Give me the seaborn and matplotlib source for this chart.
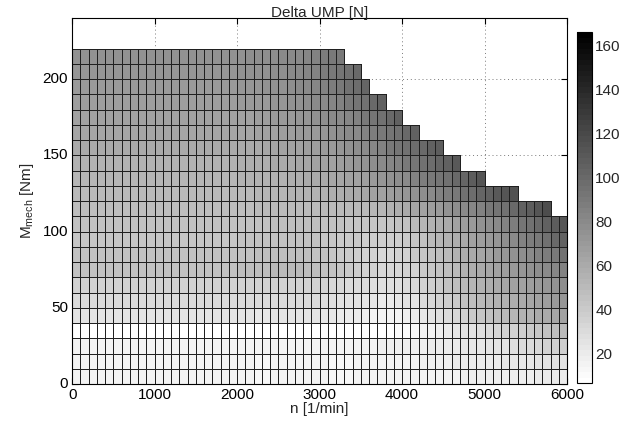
import numpy as np
import pandas as pd
import matplotlib
matplotlib.use("Agg")
import matplotlib.pyplot as plt
import seaborn as sns

nan = np.nan

# speed bins: 100 rpm each, 0..6000 ; torque bins: 10 Nm each, 0..220
speed_step = 100
torque_step = 10
speed_ticks = [0, 1000, 2000, 3000, 4000, 5000, 6000]
torque_ticks = [0, 50, 100, 150, 200]
cbar_ticks = [20, 40, 60, 80, 100, 120, 140, 160]

# Delta UMP [N]; rows from 0-10 Nm (first) up to 210-220 Nm (last), 60 speed columns each
ump = [
    [15,15,15,15,15,15,15,15,15,15, 15,15,15,15,15,15,15,15,15,15, 14,14,13,13,14,15,15,15,15,15, 14,13,13,13,14,15,15,15,15,15, 15,15,16,16,16,16,16,17,17,17, 17,17,18,18,18,18,19,19,19,20],
    [15,15,15,15,15,15,15,15,15,15, 15,15,15,15,15,15,15,15,15,15, 14,14,13,13,14,15,15,15,15,15, 14,13,13,13,14,15,15,15,15,16, 16,16,17,17,18,18,19,19,20,20, 21,21,22,22,23,23,24,24,25,26],
    [16,16,16,16,16,16,16,16,16,16, 16,16,16,16,16,16,16,16,16,16, 15,15,14,14,15,16,16,16,16,16, 15,14,14,14,15,16,16,17,17,18, 17,18,18,19,19,20,21,22,22,23, 24,25,26,27,29,30,32,34,36,38],
    [8,8,8,8,8,8,8,8,8,8, 8,8,8,8,8,8,8,8,8,8, 8,8,7,7,8,8,8,8,8,8, 8,8,8,8,8,7,7,7,8,9, 10,12,14,16,18,20,22,24,26,28, 30,32,34,36,38,40,43,46,48,51],
    [24,24,24,24,24,24,24,24,24,24, 24,24,24,24,24,24,24,24,24,24, 24,24,23,23,24,24,24,24,24,24, 23,22,21,20,19,18,16,15,15,16, 18,20,22,24,27,30,33,36,39,42, 45,48,50,52,54,56,59,61,63,66],
    [29,29,29,29,29,29,29,29,29,29, 29,29,29,29,29,29,29,29,29,29, 29,29,29,29,29,29,29,29,29,29, 28,27,26,25,24,23,22,21,21,22, 24,26,29,32,35,38,41,44,47,50, 52,54,56,58,60,62,64,67,69,72],
    [34,34,34,34,34,34,34,34,34,34, 34,34,34,34,34,34,34,34,34,34, 34,34,34,34,34,35,35,35,35,35, 34,33,32,31,30,29,28,27,27,28, 30,32,35,38,41,44,47,50,53,56, 58,60,62,64,66,68,70,73,75,78],
    [46,46,46,46,46,46,46,46,46,46, 46,46,46,46,46,46,46,46,46,46, 47,47,48,48,49,49,49,49,48,47, 46,44,42,40,38,36,34,33,32,33, 34,36,39,42,45,48,51,54,57,60, 62,65,67,70,72,75,77,80,82,85],
    [45,45,45,45,45,45,45,45,45,45, 45,45,45,45,45,45,45,45,45,45, 46,46,47,47,48,48,48,48,47,46, 45,43,41,39,37,35,34,33,33,34, 36,39,42,45,48,51,54,57,60,63, 66,69,72,75,78,81,84,87,90,94],
    [43,43,43,43,43,43,43,43,43,43, 43,43,43,43,43,43,43,43,43,43, 44,44,45,45,46,46,46,46,45,44, 43,42,41,40,39,38,37,37,37,38, 40,43,46,49,52,55,58,61,64,67, 70,73,77,80,84,87,91,95,99,104],
    [44,44,44,44,44,44,44,44,44,44, 44,44,44,44,44,44,44,44,44,44, 45,45,46,46,47,47,47,47,47,47, 46,45,44,43,42,42,42,42,43,44, 46,49,52,55,58,61,64,67,70,74, 77,80,84,88,92,96,100,104,108,113],
    [47,47,47,47,47,47,47,47,47,47, 47,47,47,47,47,47,47,47,47,47, 48,48,49,49,50,50,50,50,50,50, 50,50,50,50,50,51,52,53,55,57, 59,62,65,68,71,74,77,80,83,86, 89,92,96,100,104,108,113,118,nan,nan],
    [50,50,50,50,50,50,50,50,50,50, 50,50,50,50,50,50,50,50,50,50, 51,51,52,52,53,53,54,54,55,55, 56,57,58,59,60,62,64,66,68,70, 72,75,78,81,84,87,90,94,98,102, 106,109,112,116,nan,nan,nan,nan,nan,nan],
    [53,53,53,53,53,53,53,53,53,53, 53,53,53,53,53,53,53,53,53,53, 54,54,55,55,56,56,57,58,59,60, 61,62,63,64,66,68,70,72,75,78, 81,84,87,90,93,96,99,103,108,113, nan,nan,nan,nan,nan,nan,nan,nan,nan,nan],
    [56,56,56,56,56,56,56,56,56,56, 56,56,56,56,56,56,56,56,56,56, 57,57,58,58,59,60,61,62,63,64, 65,66,68,70,72,74,77,80,83,86, 89,92,95,98,102,106,110,nan,nan,nan, nan,nan,nan,nan,nan,nan,nan,nan,nan,nan],
    [59,59,59,59,59,59,59,59,59,59, 59,59,59,59,59,59,59,59,59,59, 60,60,61,62,63,64,65,66,67,68, 69,71,73,75,77,80,83,86,89,92, 95,98,101,104,107,nan,nan,nan,nan,nan, nan,nan,nan,nan,nan,nan,nan,nan,nan,nan],
    [62,62,62,62,62,62,62,62,62,62, 62,62,62,62,62,62,62,62,62,62, 63,63,64,65,66,67,68,69,70,71, 73,75,77,79,81,84,87,90,93,96, 100,104,nan,nan,nan,nan,nan,nan,nan,nan, nan,nan,nan,nan,nan,nan,nan,nan,nan,nan],
    [65,65,65,65,65,65,65,65,65,65, 65,65,65,65,65,65,65,65,65,65, 66,66,67,68,69,70,71,72,73,75, 77,79,81,83,86,89,92,96,100,105, nan,nan,nan,nan,nan,nan,nan,nan,nan,nan, nan,nan,nan,nan,nan,nan,nan,nan,nan,nan],
    [68,68,68,68,68,68,68,68,68,68, 68,68,68,68,68,68,68,68,68,68, 69,69,70,71,72,73,74,75,77,79, 81,83,86,89,92,96,100,105,nan,nan, nan,nan,nan,nan,nan,nan,nan,nan,nan,nan, nan,nan,nan,nan,nan,nan,nan,nan,nan,nan],
    [71,71,71,71,71,71,71,71,71,71, 71,71,71,71,71,71,71,71,71,71, 72,72,73,74,75,76,77,79,81,83, 85,88,91,94,98,102,nan,nan,nan,nan, nan,nan,nan,nan,nan,nan,nan,nan,nan,nan, nan,nan,nan,nan,nan,nan,nan,nan,nan,nan],
    [73,73,73,73,73,73,73,73,73,73, 73,73,73,73,73,73,73,73,73,73, 74,74,75,76,77,78,79,81,83,85, 87,89,92,96,100,nan,nan,nan,nan,nan, nan,nan,nan,nan,nan,nan,nan,nan,nan,nan, nan,nan,nan,nan,nan,nan,nan,nan,nan,nan],
    [76,76,76,76,76,76,76,76,76,76, 76,76,76,76,76,76,76,76,76,76, 76,77,77,78,78,79,80,81,83,85, 87,89,91,nan,nan,nan,nan,nan,nan,nan, nan,nan,nan,nan,nan,nan,nan,nan,nan,nan, nan,nan,nan,nan,nan,nan,nan,nan,nan,nan],
]

sns.set_style("ticks")
plt.rcParams["font.family"] = ["Liberation Sans", "DejaVu Sans"]
plt.rcParams["font.size"] = 11

n_cols = len(ump[0])
n_rows = len(ump)
speed_left = [c * speed_step for c in range(n_cols)]
torque_low = [r * torque_step for r in range(n_rows)]
vals = np.array(ump, dtype=float)
df = pd.DataFrame(vals, index=torque_low, columns=speed_left)

fig = plt.figure(figsize=(6.36, 4.24), dpi=100)
ax = fig.add_axes([0.1135, 0.0943, 0.7780, 0.8632])
cax = fig.add_axes([0.907, 0.0967, 0.0245, 0.827])

cmap = plt.get_cmap("gray_r", 64)
sns.heatmap(df, ax=ax, cbar_ax=cax, cmap=cmap, vmin=6.5, vmax=166,
            linewidths=0.6, linecolor="#202020",
            cbar_kws={"ticks": cbar_ticks})

# hide the outlines of empty (NaN) cells
mesh = ax.collections[0]
edge = np.tile(np.array([0.125, 0.125, 0.125, 1.0]), (vals.size, 1))
edge[np.isnan(vals).ravel(), 3] = 0.0
mesh.set_edgecolor(edge)

ax.set_xlim(0, 6000 / speed_step)
ax.set_ylim(0, 240 / torque_step)
ax.set_xticks([s / speed_step for s in speed_ticks])
ax.set_xticklabels([str(s) for s in speed_ticks], rotation=0)
ax.set_yticks([t / torque_step for t in torque_ticks])
ax.set_yticklabels([str(t) for t in torque_ticks], rotation=0)
for s in ax.spines.values():
    s.set_visible(True)
    s.set_linewidth(0.8)
    s.set_color("black")
ax.tick_params(direction="in", length=4, width=0.8, top=True, right=True,
               labelsize=11, colors="black", pad=3)
ax.set_axisbelow(True)
ax.grid(True, linestyle=(0, (1, 3)), color="#7a7a7a", linewidth=0.7)
ax.set_xlabel("n [1/min]", fontsize=11, labelpad=0)
ax.set_ylabel(r"M$_\mathregular{mech}$ [Nm]", fontsize=11, labelpad=5)
ax.set_title("Delta UMP [N]", fontsize=11, pad=1)

cbar = mesh.colorbar
cbar.outline.set_linewidth(0.8)
cbar.outline.set_edgecolor("black")
cbar.ax.tick_params(direction="in", length=3, width=0.6, left=True, right=True,
                    labelsize=11, pad=2)

fig.savefig("out.png", dpi=100)
